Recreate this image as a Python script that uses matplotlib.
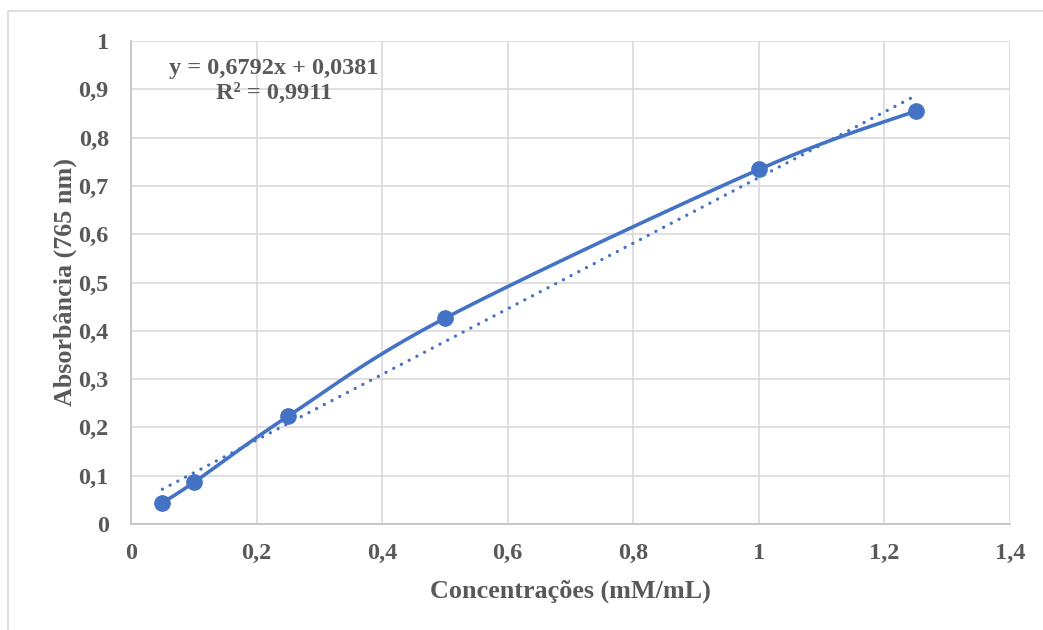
import numpy as np
import matplotlib
matplotlib.use("Agg")
from matplotlib import pyplot as plt
from matplotlib.patches import Rectangle
from matplotlib.ticker import FuncFormatter

# calibration data
conc = [0.05, 0.1, 0.25, 0.5, 1.0, 1.25]
absorb = [0.044, 0.086, 0.223, 0.426, 0.734, 0.855]

# linear trendline reported on the chart
slope = 0.6792
intercept = 0.0381
r2 = 0.9911

x_ticks = [0, 0.2, 0.4, 0.6, 0.8, 1.0, 1.2, 1.4]
y_ticks = [0, 0.1, 0.2, 0.3, 0.4, 0.5, 0.6, 0.7, 0.8, 0.9, 1.0]

blue = '#4472C4'
grey = '#595959'
font = 'Liberation Serif'


def smooth(xs, ys, n=40):
    # bezier smoothing like the spreadsheet "smoothed line" option
    xs = np.asarray(xs)
    ys = np.asarray(ys)
    px = np.concatenate([[xs[0]], xs, [xs[-1]]])
    py = np.concatenate([[ys[0]], ys, [ys[-1]]])
    outx, outy = [], []
    t = np.linspace(0, 1, n)
    for i in range(1, len(px) - 2):
        p0 = np.array([px[i], py[i]])
        p3 = np.array([px[i + 1], py[i + 1]])
        p1 = p0 + (np.array([px[i + 1], py[i + 1]]) - np.array([px[i - 1], py[i - 1]])) / 6
        p2 = p3 - (np.array([px[i + 2], py[i + 2]]) - np.array([px[i], py[i]])) / 6
        b = ((1 - t) ** 3)[:, None] * p0 + (3 * (1 - t) ** 2 * t)[:, None] * p1 \
            + (3 * (1 - t) * t ** 2)[:, None] * p2 + (t ** 3)[:, None] * p3
        outx.extend(b[:, 0])
        outy.extend(b[:, 1])
    return outx, outy


fig = plt.figure(figsize=(10.43, 6.3), dpi=100)
fig.patches.append(Rectangle((8 / 1043, -0.01), 1.02, 1 - 11 / 630 + 0.01,
                             transform=fig.transFigure, fill=False,
                             edgecolor='#d9d9d9', linewidth=1.2))

ax = fig.add_axes([131 / 1043, 106 / 630, 879 / 1043, 483 / 630])

sx, sy = smooth(conc, absorb)
ax.plot(sx, sy, color=blue, linewidth=2.6, zorder=3)
ax.plot(conc, absorb, 'o', color=blue, markersize=11, zorder=4)

tx = np.array([conc[0], conc[-1]])
ax.plot(tx, slope * tx + intercept, color=blue, linewidth=2.4,
        linestyle=(0, (0.01, 2.6)), dash_capstyle='round', zorder=3)

ax.text(0.228, 0.918, 'y = %sx + %s\nR² = %s' % (str(slope).replace('.', ','),
                                                str(intercept).replace('.', ','),
                                                str(r2).replace('.', ',')),
        ha='center', va='center', fontsize=17.5, fontweight='bold',
        family=font, color=grey, linespacing=1.25)

ax.set_xlim(0, 1.4)
ax.set_ylim(0, 1.0)
ax.set_xticks(x_ticks)
ax.set_yticks(y_ticks)
fmt = FuncFormatter(lambda v, p: ('%g' % round(v, 2)).replace('.', ','))
ax.xaxis.set_major_formatter(fmt)
ax.yaxis.set_major_formatter(fmt)

ax.grid(True, color='#d9d9d9', linewidth=1.2)
ax.set_axisbelow(True)
for s in ['top', 'right']:
    ax.spines[s].set_visible(False)
for s in ['left', 'bottom']:
    ax.spines[s].set_color('#bfbfbf')
    ax.spines[s].set_linewidth(1.2)
ax.tick_params(axis='x', length=0, pad=14, labelsize=17.5, labelcolor=grey)
ax.tick_params(axis='y', length=0, pad=16, labelsize=17.5, labelcolor=grey)
for lbl in ax.get_xticklabels() + ax.get_yticklabels():
    lbl.set_fontfamily(font)
    lbl.set_fontweight('bold')

ax.set_xlabel('Concentrações (mM/mL)', fontsize=18.8, fontweight='bold',
              family=font, color=grey, labelpad=11)
ax.set_ylabel('Absorbância (765 nm)', fontsize=18.8, fontweight='bold',
              family=font, color=grey, labelpad=1)

plt.savefig('out.png', dpi=100)
